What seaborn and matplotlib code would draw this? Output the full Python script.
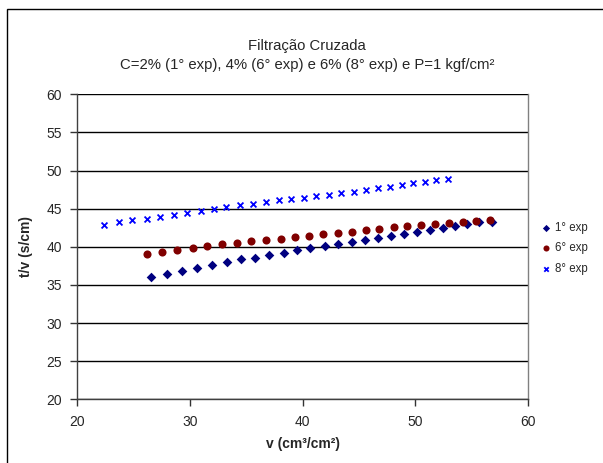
import numpy as np
import pandas as pd
import matplotlib
matplotlib.use("Agg")
import matplotlib.pyplot as plt
import seaborn as sns
from matplotlib.patches import Rectangle

# data
x_1 = [26.55, 27.91, 29.30, 30.63, 31.93, 33.27, 34.48, 35.75, 37.02, 38.32, 39.50, 40.66, 41.96,
       43.14, 44.36, 45.51, 46.69, 47.82, 49.03, 50.15, 51.34, 52.43, 53.56, 54.56, 55.69, 56.78]
y_1 = [36.08, 36.47, 36.87, 37.22, 37.57, 37.97, 38.36, 38.57, 38.92, 39.23, 39.58, 39.84, 40.07,
       40.37, 40.59, 40.85, 41.19, 41.46, 41.68, 41.94, 42.20, 42.47, 42.73, 42.95, 43.21, 43.29]

x_6 = [26.14, 27.50, 28.86, 30.22, 31.49, 32.79, 34.13, 35.42, 36.70, 38.06, 39.33, 40.60, 41.81,
       43.09, 44.36, 45.63, 46.78, 48.08, 49.30, 50.54, 51.75, 53.03, 54.21, 55.42, 56.60]
y_6 = [39.10, 39.36, 39.58, 39.84, 40.07, 40.33, 40.50, 40.72, 40.93, 41.06, 41.32, 41.46, 41.72,
       41.85, 41.98, 42.20, 42.33, 42.60, 42.73, 42.86, 42.99, 43.08, 43.29, 43.42, 43.55]

x_8 = [22.38, 23.68, 24.87, 26.14, 27.32, 28.53, 29.72, 30.93, 32.11, 33.20, 34.39, 35.57, 36.70,
       37.88, 38.97, 40.10, 41.19, 42.29, 43.41, 44.51, 45.60, 46.66, 47.76, 48.79, 49.80, 50.83,
       51.87, 52.87]
y_8 = [42.82, 43.21, 43.47, 43.69, 43.95, 44.17, 44.43, 44.70, 44.96, 45.22, 45.48, 45.61, 45.84,
       46.10, 46.23, 46.44, 46.70, 46.83, 47.06, 47.19, 47.45, 47.67, 47.84, 48.07, 48.33, 48.46,
       48.72, 48.93]

series = ["1° exp", "6° exp", "8° exp"]
colors = {"1° exp": "#000080", "6° exp": "#800000", "8° exp": "#0000FF"}
markers = {"1° exp": "D", "6° exp": "o", "8° exp": "x"}
sizes = {"1° exp": 24, "6° exp": 34, "8° exp": 18}

df = pd.concat([
    pd.DataFrame({"v": x_1, "tv": y_1, "exp": "1° exp"}),
    pd.DataFrame({"v": x_6, "tv": y_6, "exp": "6° exp"}),
    pd.DataFrame({"v": x_8, "tv": y_8, "exp": "8° exp"}),
])

sns.set_style("white")
plt.rcParams["font.family"] = ["Liberation Sans", "DejaVu Sans"]

fig = plt.figure(figsize=(6.03, 4.63), dpi=100)
ax = fig.add_axes([0.1285, 0.1376, 0.7471, 0.6587])

for s in series:
    sub = df[df["exp"] == s]
    sns.scatterplot(data=sub, x="v", y="tv", ax=ax, color=colors[s], marker=markers[s],
                    s=sizes[s], linewidth=1.3 if s == "8° exp" else 0,
                    edgecolor=colors[s], label=s, zorder=3)

ax.set_xlim(20, 60)
ax.set_ylim(20, 60)
ax.set_xticks(range(20, 61, 10))
ax.set_yticks(range(20, 61, 5))
ax.yaxis.grid(True, color="black", linewidth=1)
ax.xaxis.grid(False)
ax.tick_params(axis="both", which="both", direction="out", length=5, width=1,
               color="#333333", labelsize=10, left=True, bottom=True, pad=6)

for side in ["left", "bottom"]:
    ax.spines[side].set_color("#404040")
    ax.spines[side].set_linewidth(1)
ax.spines["right"].set_color("#808080")
ax.spines["right"].set_linewidth(1)
ax.spines["top"].set_visible(False)

ax.set_xlabel("v (cm³/cm²)", fontsize=10, fontweight="bold", labelpad=6)
ax.set_ylabel("t/v (s/cm)", fontsize=10, fontweight="bold", labelpad=10)

fig.text(0.509, 0.901, "Filtração Cruzada", ha="center", va="center", fontsize=10.7)
fig.text(0.509, 0.860, "C=2% (1° exp), 4% (6° exp) e 6% (8° exp) e P=1 kgf/cm²",
         ha="center", va="center", fontsize=10.7)

leg = ax.legend(loc="center left", bbox_to_anchor=(1.015, 0.495), frameon=False,
                fontsize=8.3, handletextpad=0.15, labelspacing=0.75, markerscale=0.75,
                handlelength=1.2, borderaxespad=0)

# outer chart frame (only left and top visible inside the picture)
fig.patches.append(Rectangle((7 / 603, -0.05), 1.2, 1 - 9 / 463 + 0.05,
                             transform=fig.transFigure, fill=False,
                             edgecolor="black", linewidth=1))

fig.savefig("out.png", dpi=100)
